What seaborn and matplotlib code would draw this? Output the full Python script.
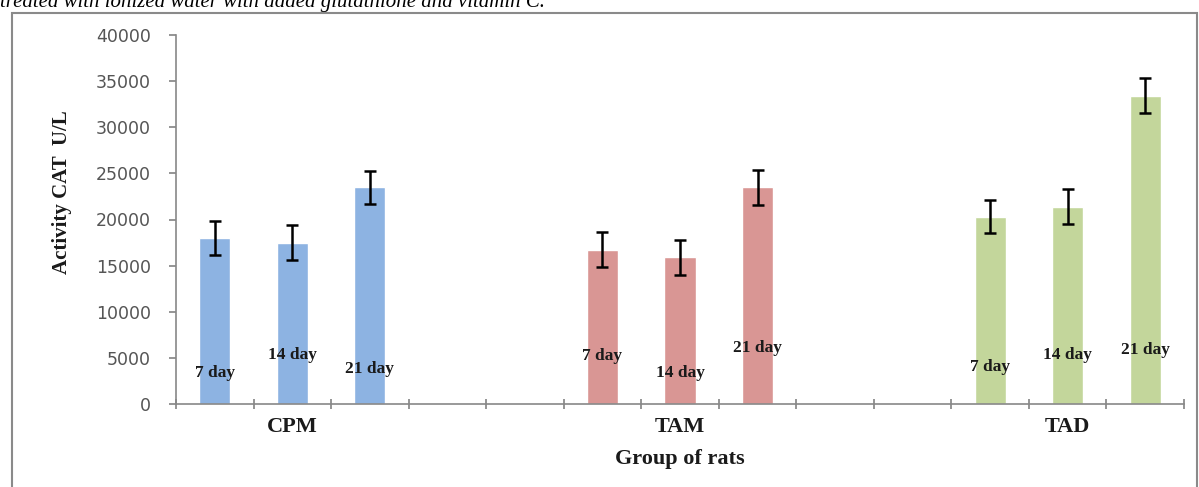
import numpy as np
import pandas as pd
import matplotlib
matplotlib.use("Agg")
import matplotlib.pyplot as plt
import seaborn as sns

# ---- data ----
groups = ["CPM", "TAM", "TAD"]
days = ["7 day", "14 day", "21 day"]
cpm_vals = [18000, 17500, 23500]
tam_vals = [16700, 15900, 23500]
tad_vals = [20300, 21400, 33400]
cpm_err = [1800, 1900, 1800]
tam_err = [1900, 1900, 1900]
tad_err = [1800, 1900, 1900]
# heights (data units) at which the day labels are written
cpm_lab_y = [3400, 5300, 3800]
tam_lab_y = [5200, 3400, 6100]
tad_lab_y = [4000, 5300, 5800]
colors = {"CPM": "#8DB3E2", "TAM": "#D99694", "TAD": "#C3D69B"}

# slot layout (13 category slots, with empty slots between groups)
slot_order = ["CPM 7", "CPM 14", "CPM 21", "e1", "e2",
              "TAM 7", "TAM 14", "TAM 21", "e3", "e4",
              "TAD 7", "TAD 14", "TAD 21"]

rows = []
for g, vals, errs, laby in [("CPM", cpm_vals, cpm_err, cpm_lab_y),
                            ("TAM", tam_vals, tam_err, tam_lab_y),
                            ("TAD", tad_vals, tad_err, tad_lab_y)]:
    for d, v, e, ly in zip(days, vals, errs, laby):
        rows.append({"slot": f"{g} {d.split()[0]}", "group": g, "day": d,
                     "value": v, "err": e, "laby": ly})
df = pd.DataFrame(rows)

sns.set_theme(style="white")
plt.rcParams["font.family"] = ["DejaVu Sans"]

fig = plt.figure(figsize=(11.99, 4.87), dpi=100)
ax = fig.add_axes([176/1199, 1 - 404/487, (1184-176)/1199, (404-35)/487])

sns.barplot(data=df, x="slot", y="value", hue="group", order=slot_order,
            hue_order=groups, palette=colors, dodge=False, width=0.4,
            errorbar=None, legend=False, ax=ax, saturation=1)

xpos = [slot_order.index(s) for s in df["slot"]]
ax.errorbar(xpos, df["value"], yerr=df["err"], fmt="none", ecolor="black",
            elinewidth=1.8, capsize=4.5, capthick=1.8, zorder=5)

serif_bold = dict(family="Liberation Serif", fontweight="bold")
for x, (_, r) in zip(xpos, df.iterrows()):
    ax.text(x, r["laby"], r["day"], ha="center", va="center",
            fontsize=12.5, color="#1a1a1a", **serif_bold)

ax.set_xlim(-0.5, 12.5)
ax.set_ylim(0, 40000)
ax.set_yticks(np.arange(0, 40001, 5000))
ax.tick_params(axis="y", labelsize=12.5, labelcolor="#555555", left=True,
               length=5, color="#888888", direction="out", pad=13)

ax.set_xticks(np.arange(-0.5, 13, 1.0))
ax.set_xticklabels([])
ax.tick_params(axis="x", which="major", bottom=True, direction="inout",
               length=7, color="#888888")
ax.set_xticks([1, 6, 11], minor=True)
ax.set_xticklabels(groups, minor=True, fontsize=16, color="#1a1a1a",
                   **serif_bold)
ax.tick_params(axis="x", which="minor", length=0, pad=9)

ax.set_xlabel("Group of rats", fontsize=16, color="#1a1a1a", labelpad=9,
              **serif_bold)
ax.set_ylabel("Activity CAT  U/L", fontsize=15, color="#1a1a1a",
              **serif_bold)
ax.yaxis.set_label_coords(-0.103, 0.575)

for s in ["top", "right"]:
    ax.spines[s].set_visible(False)
for s in ["left", "bottom"]:
    ax.spines[s].set_color("#888888")
    ax.spines[s].set_linewidth(1.2)

# outer frame of the original figure
frame = plt.Rectangle((12/1199, -0.01), (1197-12)/1199, 1 - 13/487 + 0.01,
                      transform=fig.transFigure, fill=False,
                      edgecolor="#8a8a8a", linewidth=1.5)
fig.add_artist(frame)

fig.text(0.0, 1 - 7/487, "treated with ionized water with added glutathione and vitamin C.",
         ha="left", va="baseline", fontsize=15, style="italic",
         family="Liberation Serif", color="black")

fig.savefig("out.png", dpi=100)
